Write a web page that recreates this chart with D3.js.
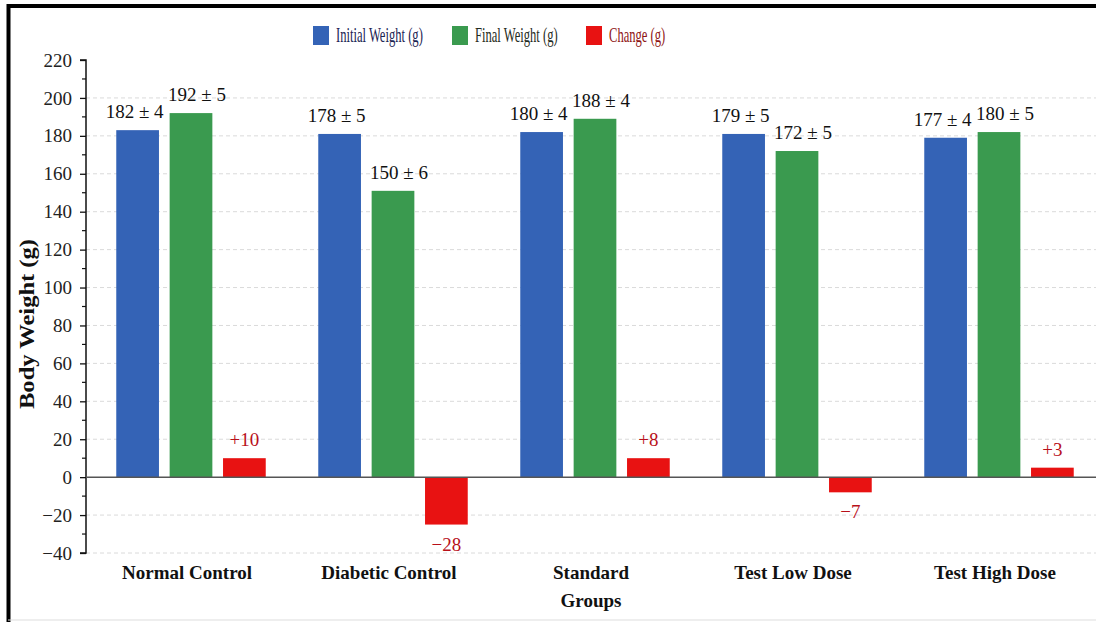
<!DOCTYPE html>
<html>
<head>
<meta charset="utf-8">
<script src="https://cdn.jsdelivr.net/npm/d3@7"></script>
<style>
  body { margin: 0; background: #fff; }
  svg { display: block; font-family: "Liberation Serif", "Times New Roman", serif; }
</style>
</head>
<body>
<div id="chart"></div>
<script>
const groups = ["Normal Control", "Diabetic Control", "Standard Groups", "Test Low Dose", "Test High Dose"];
const seriesNames = ["Initial Weight (g)", "Final Weight (g)", "Change (g)"];
// bar heights as drawn in the picture
const initialWeight = [183, 181, 182, 181, 179];
const finalWeight = [192, 151, 189, 172, 182];
const change = [10, -25, 10, -8, 5];
// printed labels
const initialLabels = ["182 ± 4", "178 ± 5", "180 ± 4", "179 ± 5", "177 ± 4"];
const finalLabels = ["192 ± 5", "150 ± 6", "188 ± 4", "172 ± 5", "180 ± 5"];
const changeLabels = ["+10", "−28", "+8", "−7", "+3"];
const yTicks = [220, 200, 180, 160, 140, 120, 100, 80, 60, 40, 20, 0, -20, -40];

const width = 1096, height = 622;
const colors = ["#3463b6", "#3a9a4f", "#e81212"];
const legendText = ["#1b2352", "#1f2b22", "#8e1414"];

const svg = d3.select("#chart").append("svg")
  .attr("width", width)
  .attr("height", height);

svg.append("rect").attr("width", width).attr("height", height).attr("fill", "#fff");

const y = d3.scaleLinear().domain([-40, 220]).range([553, 60]);
const x0 = d3.scaleBand().domain(groups).range([90, 1100]).paddingInner(0.26).paddingOuter(0.13);
const x1 = d3.scaleBand().domain(seriesNames).range([0, x0.bandwidth()]).paddingInner(0.2);
const axisX = 86;

// grid lines
svg.append("g")
  .selectAll("line")
  .data(yTicks.filter(d => d !== 0 && d !== 220))
  .join("line")
  .attr("x1", axisX).attr("x2", width)
  .attr("y1", d => y(d)).attr("y2", d => y(d))
  .attr("stroke", "#dadada")
  .attr("stroke-dasharray", "4,3");

// y axis
const yAxis = d3.axisLeft(y).tickValues(yTicks).tickSize(6).tickPadding(8)
  .tickFormat(d => d < 0 ? "−" + Math.abs(d) : d);
const gy = svg.append("g").attr("transform", `translate(${axisX},0)`).call(yAxis);
gy.attr("font-family", null);
gy.select(".domain").attr("d", `M-6,${y(220)}H0V${y(-40)}H-6`).attr("stroke", "#111").attr("stroke-width", 1.5);
gy.selectAll(".tick line").attr("stroke", "#111").attr("stroke-width", 1.3);
gy.selectAll(".tick text")
  .attr("font-size", 19)
  .attr("fill", "#222");

// minor ticks
svg.append("g")
  .selectAll("line")
  .data(d3.range(-30, 220, 20))
  .join("line")
  .attr("x1", axisX - 4).attr("x2", axisX)
  .attr("y1", d => y(d)).attr("y2", d => y(d))
  .attr("stroke", "#111").attr("stroke-width", 1.2);

// y label
svg.append("text")
  .attr("transform", `translate(34,324) rotate(-90)`)
  .attr("text-anchor", "middle")
  .attr("font-size", 20)
  .attr("font-weight", "bold")
  .attr("textLength", 170)
  .attr("lengthAdjust", "spacingAndGlyphs")
  .attr("fill", "#111")
  .text("Body Weight (g)");

// bars
const rows = groups.map((g, i) => ({
  group: g,
  bars: [
    { s: seriesNames[0], v: initialWeight[i], label: initialLabels[i], c: 0 },
    { s: seriesNames[1], v: finalWeight[i], label: finalLabels[i], c: 1 },
    { s: seriesNames[2], v: change[i], label: changeLabels[i], c: 2 }
  ]
}));

const gGroup = svg.append("g").selectAll("g")
  .data(rows)
  .join("g")
  .attr("transform", d => `translate(${x0(d.group)},0)`);

gGroup.selectAll("rect")
  .data(d => d.bars)
  .join("rect")
  .attr("x", d => x1(d.s))
  .attr("width", x1.bandwidth())
  .attr("y", d => y(Math.max(0, d.v)))
  .attr("height", d => Math.abs(y(d.v) - y(0)))
  .attr("fill", d => colors[d.c]);

const labelShift = [-3, 6, 0];
gGroup.selectAll("text.val")
  .data(d => d.bars)
  .join("text")
  .attr("class", "val")
  .attr("x", d => x1(d.s) + x1.bandwidth() / 2 + labelShift[d.c])
  .attr("y", d => d.v >= 0 ? y(d.v) - 12 : y(d.v) + 26)
  .attr("text-anchor", "middle")
  .attr("font-size", 19)
  .attr("fill", d => d.c === 2 ? "#b8101a" : "#111")
  .text(d => d.label);

// zero line
svg.append("line")
  .attr("x1", axisX).attr("x2", width)
  .attr("y1", y(0)).attr("y2", y(0))
  .attr("stroke", "#555").attr("stroke-width", 1.5);

// category labels
svg.append("g").selectAll("text")
  .data(groups)
  .join("text")
  .attr("y", 579)
  .attr("text-anchor", "middle")
  .attr("font-size", 19)
  .attr("font-weight", "bold")
  .attr("fill", "#111")
  .each(function (d) {
    const parts = d === "Standard Groups" ? ["Standard", "Groups"] : [d];
    d3.select(this).selectAll("tspan")
      .data(parts)
      .join("tspan")
      .attr("x", x0(d) + x0.bandwidth() / 2 - 4)
      .attr("dy", (p, i) => i === 0 ? 0 : 28)
      .text(p => p);
  });

// legend (text is narrow in the original, so squeeze it)
const legendX = [313, 452, 586];
const legend = svg.append("g").selectAll("g")
  .data(seriesNames)
  .join("g")
  .attr("transform", (d, i) => `translate(${legendX[i]},26)`);
legend.append("rect")
  .attr("width", 16).attr("height", 19)
  .attr("fill", (d, i) => colors[i]);
legend.append("text")
  .attr("transform", "translate(23,16) scale(0.6,1)")
  .attr("font-size", 21)
  .attr("fill", (d, i) => legendText[i])
  .text(d => d);

// frame
svg.append("path")
  .attr("d", `M8.5,${height}V6H${width}`)
  .attr("fill", "none")
  .attr("stroke", "#000")
  .attr("stroke-width", 4);
svg.append("line")
  .attr("x1", 8).attr("x2", width)
  .attr("y1", 620).attr("y2", 620)
  .attr("stroke", "#ddd").attr("stroke-width", 1);
</script>
</body>
</html>
